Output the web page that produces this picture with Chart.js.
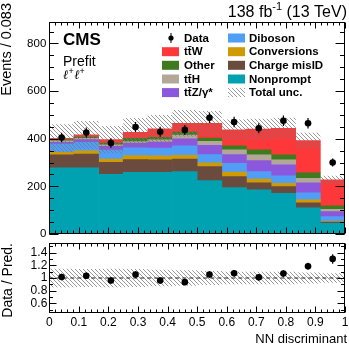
<!DOCTYPE html>
<html><head><meta charset="utf-8">
<script src="https://cdn.jsdelivr.net/npm/chart.js@4.4.1/dist/chart.umd.min.js"></script>
<style>
html,body{margin:0;padding:0;background:#fff;overflow:hidden;}
#wrap{position:relative;width:349px;height:344px;background:#fff;}
#c1{position:absolute;left:0;top:0;}
#c2{position:absolute;left:0;top:238px;}
</style></head><body>
<div id="wrap">
<canvas id="c1" width="349" height="238"></canvas>
<canvas id="c2" width="349" height="106"></canvas>
</div>
<script>
// ---------------- data ----------------
const binLow = [0, 0.083, 0.167, 0.25, 0.333, 0.417, 0.5, 0.583, 0.667, 0.75, 0.833, 0.917];
const nonprompt   = [278, 278, 251, 259, 259, 262, 224, 195, 185, 171, 110, 45];
const chargeMisID = [54, 58, 50, 53, 52, 52, 59, 46, 30, 28, 21, 5];
const conversions = [11, 13, 14, 17, 17, 16, 16, 19, 16, 14, 12, 3];
const diboson     = [34, 36, 37, 33, 33, 40, 34, 37, 31, 31, 30, 20];
const ttZ         = [8, 11, 16, 20, 25, 30, 39, 36, 46, 46, 42, 21];
const ttH         = [6, 6, 6, 6, 9, 15, 17, 20, 24, 21, 19, 10];
const other       = [5, 5, 8, 14, 11, 13, 14, 17, 21, 21, 23, 14];
const ttW         = [6, 9, 14, 25, 36, 37, 62, 67, 87, 112, 135, 109];
const dataVals    = [405, 426, 382, 449, 429, 437, 488, 470, 444, 475, 465, 300];
const dataErr     = [20, 21, 20, 21, 21, 21, 22, 22, 21, 22, 22, 17];
const relUnc      = [0.145, 0.14, 0.145, 0.14, 0.13, 0.12, 0.11, 0.10, 0.10, 0.10, 0.085, 0.075];
const ratioVals   = [1.015, 1.035, 0.96, 1.055, 0.96, 0.935, 1.055, 1.075, 1.01, 1.07, 1.185, 1.30];
const ratioErr    = [0.05, 0.05, 0.05, 0.05, 0.05, 0.05, 0.05, 0.05, 0.05, 0.05, 0.056, 0.075];
const yTicksMain  = [0, 200, 400, 600, 800];
const yTicksRatio = [0.6, 0.8, 1, 1.2, 1.4];
const xTicks      = [0, 0.1, 0.2, 0.3, 0.4, 0.5, 0.6, 0.7, 0.8, 0.9, 1];
const unityLine   = [{x: 0, y: 1}, {x: 1, y: 1}];

const FONT = '"Liberation Sans", Arial, Helvetica, sans-serif';
const TT = 't\u0074\u0304';

const stackDefs = [
  {label: 'Nonprompt',    data: nonprompt,   color: '#00a1b1'},
  {label: 'Charge misID', data: chargeMisID, color: '#6b4b3e'},
  {label: 'Conversions',  data: conversions, color: '#cf9b00'},
  {label: 'Diboson',      data: diboson,     color: '#509ef5'},
  {label: TT + 'Z/\u03b3*', data: ttZ,       color: '#8b57dd'},
  {label: TT + 'H',       data: ttH,         color: '#b3a897'},
  {label: 'Other',        data: other,       color: '#3e7a1e'},
  {label: TT + 'W',       data: ttW,         color: '#fe3838'},
];
const total = binLow.map((_, i) => stackDefs.reduce((s, d) => s + d.data[i], 0));

function makeHatch(ctx) {
  const s = 4;
  const c = document.createElement('canvas'); c.width = s; c.height = s;
  const g = c.getContext('2d');
  g.strokeStyle = 'rgba(120,120,120,0.85)'; g.lineWidth = 0.9;
  g.beginPath();
  g.moveTo(-1, -1); g.lineTo(s + 1, s + 1);
  g.moveTo(-1, s - 1); g.lineTo(1, s + 1);
  g.moveTo(s - 1, -1); g.lineTo(s + 1, 1);
  g.stroke();
  return ctx.createPattern(c, 'repeat');
}

// ---------------- plugins ----------------
const errorBars = {
  id: 'errorBars',
  beforeDatasetDraw(chart, args) {
    const ds = chart.data.datasets[args.index];
    if (!ds.errors) return;
    const meta = chart.getDatasetMeta(args.index);
    const ys = chart.scales[meta.yAxisID];
    const ctx = chart.ctx;
    ctx.save(); ctx.strokeStyle = '#000'; ctx.lineWidth = 1.2;
    ctx.beginPath();
    meta.data.forEach((pt, i) => {
      const v = ds.data[i], e = ds.errors[i];
      ctx.moveTo(pt.x, ys.getPixelForValue(v - e));
      ctx.lineTo(pt.x, ys.getPixelForValue(v + e));
    });
    ctx.stroke(); ctx.restore();
  }
};

function framePlugin(cfg) {
  return {
    id: 'frame_' + cfg.name,
    afterDraw(chart) {
      const ctx = chart.ctx, a = chart.chartArea;
      const xs = chart.scales[cfg.xId], ys = chart.scales[cfg.yId];
      const L = Math.round(a.left) + 0.5, R = Math.round(a.right) - 0.5;
      const T = Math.round(a.top) + 0.5, B = Math.round(a.bottom) - 0.5;
      ctx.save(); ctx.strokeStyle = '#000'; ctx.lineWidth = 1;
      ctx.beginPath();
      const xt = (v, len) => { const p = Math.round(xs.getPixelForValue(v)) + 0.5;
        ctx.moveTo(p, B); ctx.lineTo(p, B - len); ctx.moveTo(p, T); ctx.lineTo(p, T + len); };
      const yt = (v, len) => { const p = Math.round(ys.getPixelForValue(v)) + 0.5;
        ctx.moveTo(L, p); ctx.lineTo(L + len, p); ctx.moveTo(R, p); ctx.lineTo(R - len, p); };
      for (let i = 0; i < xTicks.length; i++) {
        xt(xTicks[i], cfg.xL);
        if (i < xTicks.length - 1) {
          const st = (xTicks[i + 1] - xTicks[i]) / 5;
          for (let k = 1; k < 5; k++) xt(xTicks[i] + k * st, cfg.xL / 2);
        }
      }
      cfg.yMajor.forEach(v => yt(v, cfg.yL));
      for (let v = cfg.yMinStart; v <= ys.max + 1e-9; v += cfg.yMinStep) {
        if (v >= ys.min) yt(v, cfg.yL / 2);
      }
      ctx.stroke();
      ctx.strokeRect(L, T, R - L, B - T);
      ctx.restore();
    }
  };
}

const mainText = {
  id: 'mainText',
  afterDraw(chart) {
    const ctx = chart.ctx;
    ctx.save();
    ctx.fillStyle = '#000';
    ctx.textBaseline = 'alphabetic';
    // lumi label
    const f1 = '16px ' + FONT, f2 = '11px ' + FONT;
    const p1 = '138 fb', p2 = '-1', p3 = ' (13 TeV)';
    ctx.font = f1; const w1 = ctx.measureText(p1).width, w3 = ctx.measureText(p3).width;
    ctx.font = f2; const w2 = ctx.measureText(p2).width;
    let x = 347 - (w1 + w2 + w3);
    ctx.font = f1; ctx.fillText(p1, x, 17); x += w1;
    ctx.font = f2; ctx.fillText(p2, x, 10); x += w2;
    ctx.font = f1; ctx.fillText(p3, x, 17);
    // CMS
    ctx.font = 'bold 17px ' + FONT; ctx.fillText('CMS', 63, 45);
    ctx.font = '14px ' + FONT; ctx.fillText('Prefit', 63, 65.5);
    let lx = 63;
    for (let k = 0; k < 2; k++) {
      ctx.font = 'italic 13px "DejaVu Serif", serif'; ctx.fillText('\u2113', lx, 79); lx += ctx.measureText('\u2113').width;
      ctx.font = '9px ' + FONT; ctx.fillText('+', lx, 74); lx += ctx.measureText('+').width + 0.5;
    }
    // y title
    ctx.save();
    ctx.translate(11, 3); ctx.rotate(-Math.PI / 2);
    ctx.font = '14.5px ' + FONT; ctx.textAlign = 'right';
    ctx.fillText('Events / 0.083', 0, 0);
    ctx.restore();
    // legend
    const ds = chart.data.datasets;
    const find = l => ds.find(d => d.label === l);
    const rows = [38, 51.7, 65.3, 79, 92.6];
    const cols = [{bx: 162, tx: 184}, {bx: 228, tx: 249}];
    const entries = [
      ['Data', TT + 'W', 'Other', TT + 'H', TT + 'Z/\u03b3*'],
      ['Diboson', 'Conversions', 'Charge misID', 'Nonprompt', 'Total unc.']
    ];
    ctx.font = 'bold 11.5px ' + FONT; ctx.textBaseline = 'middle';
    entries.forEach((col, ci) => col.forEach((lab, ri) => {
      const y = rows[ri], c = cols[ci];
      const d = find(lab);
      if (lab === 'Data') {
        ctx.beginPath(); ctx.arc(c.bx + 9, y, 2.6, 0, 2 * Math.PI); ctx.fill();
        ctx.beginPath(); ctx.lineWidth = 1; ctx.moveTo(c.bx + 9, y - 5); ctx.lineTo(c.bx + 9, y + 5); ctx.strokeStyle = '#000'; ctx.stroke();
      } else {
        ctx.fillStyle = d.backgroundColor;
        ctx.fillRect(c.bx, y - 4.5, 17, 9);
      }
      ctx.fillStyle = '#000';
      ctx.fillText(lab, c.tx, y + 0.5);
    }));
    ctx.restore();
  }
};

const ratioText = {
  id: 'ratioText',
  afterDraw(chart) {
    const ctx = chart.ctx;
    ctx.save(); ctx.fillStyle = '#000';
    ctx.font = '13px ' + FONT; ctx.textAlign = 'right'; ctx.textBaseline = 'alphabetic';
    ctx.fillText('NN discriminant', 347, 104.5);
    ctx.translate(11.5, 5); ctx.rotate(-Math.PI / 2);
    ctx.font = '14px ' + FONT;
    ctx.fillText('Data / Pred.', 0, 0);
    ctx.restore();
  }
};

// ---------------- main chart ----------------
const ctx1 = document.getElementById('c1').getContext('2d');
const hatch1 = makeHatch(ctx1);
const mainDatasets = stackDefs.map(s => ({
  type: 'bar', label: s.label, data: s.data, backgroundColor: s.color,
  borderWidth: 0, barPercentage: 1, categoryPercentage: 1, grouped: false,
  xAxisID: 'x', yAxisID: 'y', order: 0
}));
mainDatasets.push({
  type: 'bar', label: 'Total unc.', data: total.map((t, i) => [t * (1 - relUnc[i]), t * (1 + relUnc[i])]),
  backgroundColor: hatch1, borderWidth: 0, barPercentage: 1, categoryPercentage: 1, grouped: false,
  inflateAmount: 0, xAxisID: 'x', yAxisID: 'yb', order: -1
});
mainDatasets.push({
  type: 'line', label: 'Data', data: dataVals, errors: dataErr, showLine: false,
  pointRadius: 3.3, pointBackgroundColor: '#000', pointBorderColor: '#000', pointBorderWidth: 0,
  xAxisID: 'x', yAxisID: 'yb', order: -2
});

new Chart(ctx1, {
  data: {labels: binLow, datasets: mainDatasets},
  options: {
    responsive: false, animation: false, devicePixelRatio: 1,
    layout: {padding: {left: 0, right: 1.7, top: 22, bottom: 4}},
    plugins: {legend: {display: false}, tooltip: {enabled: false}},
    events: [],
    scales: {
      x: {type: 'category', display: false, stacked: true, offset: true},
      xl: {type: 'linear', display: false, min: 0, max: 1, position: 'bottom'},
      y: {type: 'linear', min: 0, max: 890, stacked: true, position: 'left',
          grid: {display: false, drawTicks: false}, border: {display: false},
          ticks: {font: {family: FONT, size: 11.5}, color: '#000', padding: 3, callback: v => String(v)},
          afterBuildTicks: s => { s.ticks = yTicksMain.map(v => ({value: v})); },
          afterFit: s => { s.width = 49.3; s.paddingTop = 0; s.paddingBottom = 0; }},
      yb: {type: 'linear', display: false, min: 0, max: 890, stacked: false}
    }
  },
  plugins: [errorBars, framePlugin({name: 'main', xId: 'xl', yId: 'y', xL: 6, yL: 9, yMajor: yTicksMain, yMinStart: 0, yMinStep: 50}), mainText]
});

// ---------------- ratio chart ----------------
const ctx2 = document.getElementById('c2').getContext('2d');
const hatch2 = makeHatch(ctx2);
new Chart(ctx2, {
  data: {labels: binLow, datasets: [
    {type: 'bar', label: 'unc', data: relUnc.map(u => [1 - u, 1 + u]), backgroundColor: hatch2,
     borderWidth: 0, barPercentage: 1, categoryPercentage: 1, grouped: false, inflateAmount: 0,
     xAxisID: 'xc', yAxisID: 'y', order: 2},
    {type: 'line', label: 'unity', data: unityLine, xAxisID: 'x', yAxisID: 'y',
     borderColor: '#222', borderWidth: 1, borderDash: [4, 3], pointRadius: 0, order: 1},
    {type: 'line', label: 'ratio', data: ratioVals, errors: ratioErr, showLine: false,
     pointRadius: 3.3, pointBackgroundColor: '#000', pointBorderColor: '#000', pointBorderWidth: 0,
     xAxisID: 'xc', yAxisID: 'y', order: 0}
  ]},
  options: {
    responsive: false, animation: false, devicePixelRatio: 1,
    layout: {padding: {left: 0, right: 1.7, top: 5, bottom: 0}},
    plugins: {legend: {display: false}, tooltip: {enabled: false}},
    events: [],
    scales: {
      xc: {type: 'category', display: false, offset: true},
      x: {type: 'linear', min: 0, max: 1, position: 'bottom',
          grid: {display: false, drawTicks: false}, border: {display: false},
          ticks: {font: {family: FONT, size: 12}, color: '#000', padding: 2.5, maxRotation: 0, autoSkip: false, callback: v => String(v)},
          afterBuildTicks: s => { s.ticks = xTicks.map(v => ({value: v})); },
          afterFit: s => { s.height = 31; s.paddingLeft = 0; s.paddingRight = 0; }},
      y: {type: 'linear', min: 0.45, max: 1.55, position: 'left',
          grid: {display: false, drawTicks: false}, border: {display: false},
          ticks: {font: {family: FONT, size: 12}, color: '#000', padding: 2, callback: v => String(v)},
          afterBuildTicks: s => { s.ticks = yTicksRatio.map(v => ({value: v})); },
          afterFit: s => { s.width = 49.3; s.paddingTop = 0; s.paddingBottom = 0; }}
    }
  },
  plugins: [errorBars, framePlugin({name: 'ratio', xId: 'x', yId: 'y', xL: 6, yL: 7, yMajor: yTicksRatio, yMinStart: 0.5, yMinStep: 0.1}), ratioText]
});
</script>
</body></html>
